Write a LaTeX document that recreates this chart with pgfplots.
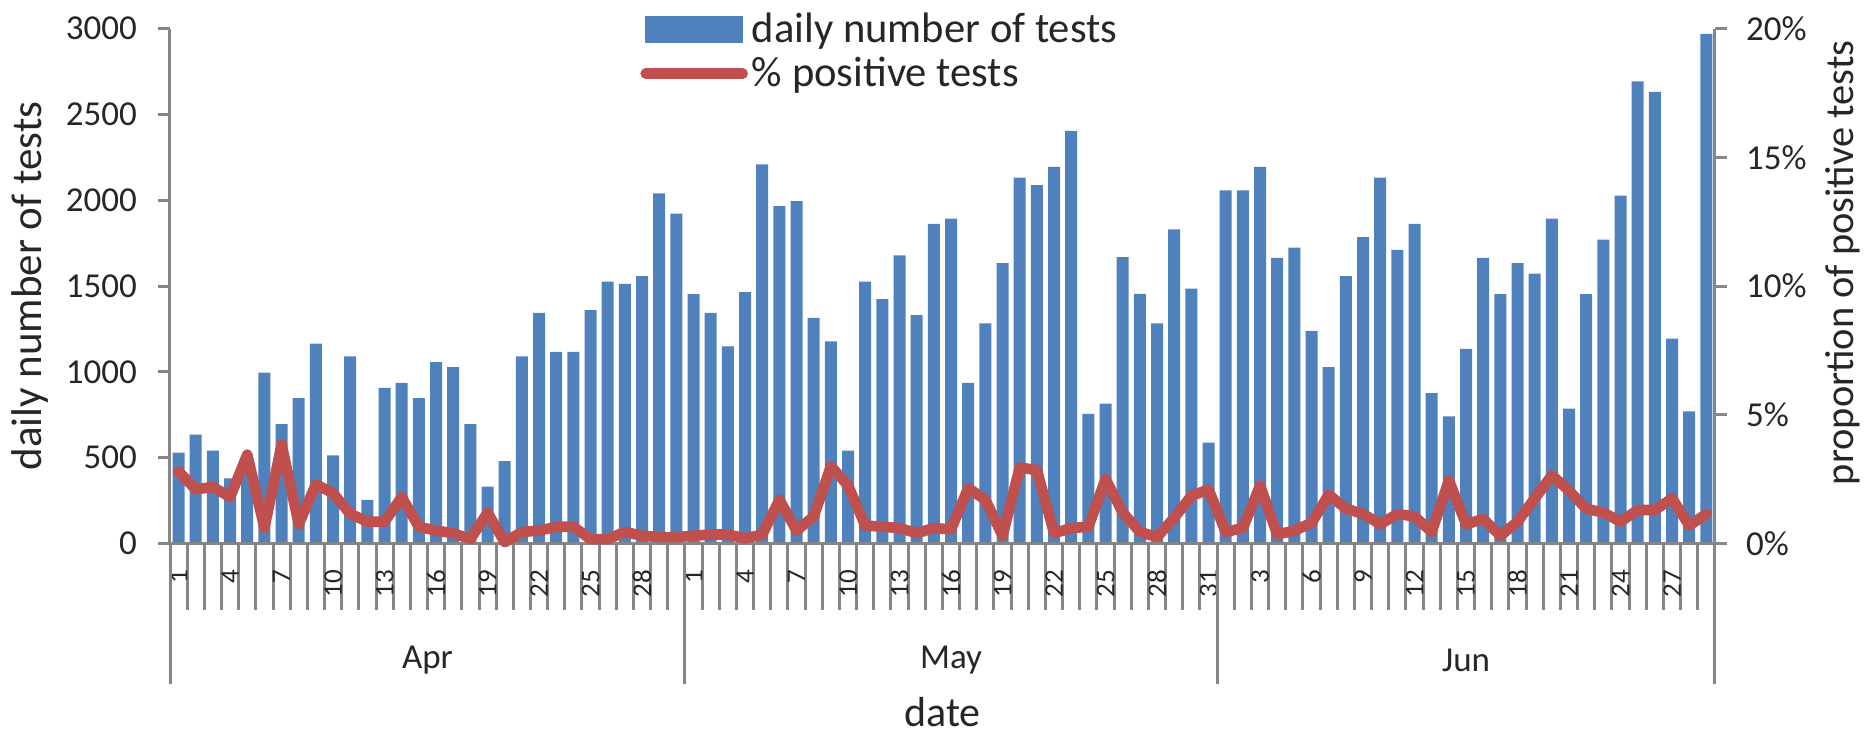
\documentclass[border=0pt]{standalone}
\usepackage{fontspec}
\setmainfont{Carlito}
\usepackage{pgfplots}
\usepackage{pgfplotstable}
\pgfplotsset{compat=1.18}
\definecolor{barblue}{HTML}{4F81BD}
\definecolor{posred}{HTML}{C0504D}
\definecolor{axgray}{HTML}{868686}

\pgfplotstableread{
idx tests pos
0 530 2.8
1 634 2.1
2 541 2.2
3 379 1.8
4 450 3.45
5 996 0.6
6 695 3.85
7 847 0.75
8 1165 2.3
9 514 1.95
10 1090 1.15
11 254 0.85
12 907 0.85
13 936 1.8
14 847 0.65
15 1057 0.5
16 1028 0.4
17 695 0.17
18 331 1.2
19 480 0.05
20 1090 0.45
21 1344 0.5
22 1117 0.65
23 1117 0.65
24 1360 0.17
25 1525 0.17
26 1512 0.45
27 1558 0.3
28 2040 0.25
29 1922 0.25
30 1452 0.3
31 1344 0.35
32 1148 0.35
33 1464 0.2
34 2209 0.35
35 1966 1.7
36 1995 0.5
37 1315 1.05
38 1177 3.0
39 541 2.25
40 1525 0.7
41 1423 0.65
42 1679 0.6
43 1331 0.4
44 1862 0.6
45 1893 0.55
46 936 2.15
47 1283 1.7
48 1633 0.3
49 2132 2.95
50 2088 2.85
51 2194 0.4
52 2404 0.6
53 755 0.65
54 815 2.5
55 1668 1.2
56 1454 0.45
57 1283 0.25
58 1830 1.0
59 1485 1.85
60 587 2.1
61 2057 0.45
62 2057 0.6
63 2194 2.25
64 1664 0.35
65 1724 0.5
66 1238 0.8
67 1028 1.9
68 1558 1.35
69 1785 1.15
70 2132 0.75
71 1710 1.15
72 1862 1.05
73 876 0.45
74 740 2.45
75 1134 0.75
76 1664 0.95
77 1452 0.3
78 1633 0.85
79 1572 1.75
80 1893 2.65
81 786 2.05
82 1452 1.35
83 1770 1.2
84 2026 0.85
85 2692 1.3
86 2631 1.3
87 1194 1.75
88 770 0.7
89 2968 1.15
}\datatable

\pgfplotsset{
  base/.style={
    scale only axis, width=772.5pt, height=257.5pt,
    at={(85pt,96.25pt)}, anchor=south west,
    xmin=-0.5, xmax=89.5,
    /pgf/number format/assume math mode=true,
    /pgf/number format/1000 sep={},
    tick align=outside,
    tick style={axgray, line width=1.5pt},
    axis line style={axgray, line width=1.5pt},
    tick label style={font=\fontsize{17.5}{20}\selectfont, text=black!85},
  }
}

\begin{document}
\begin{tikzpicture}
\useasboundingbox (0,0) rectangle (932pt,368pt);

% bars with left axis
\begin{axis}[base,
  ymin=0, ymax=3000, ytick={0,500,...,3000},
  axis y line*=left, axis x line=none,
  major tick length=6pt,
  yticklabel style={xshift=-7pt},
  every axis y label/.style={at={(axis description cs:-0.0908,0.5)}, rotate=90, anchor=center, font=\fontsize{21.5}{25}\selectfont, text=black!85},
  ylabel={daily number of tests},
]
\addplot[ybar, bar width=6pt, fill=barblue, draw=none] table[x=idx,y=tests]{\datatable};
\end{axis}

% date axis decorations
\begin{axis}[base, clip=false,
  ymin=0, ymax=1, hide y axis,
  axis x line*=bottom,
  xtick={0,3,...,87},
  xticklabels={1,4,7,10,13,16,19,22,25,28,1,4,7,10,13,16,19,22,25,28,31,3,6,9,12,15,18,21,24,27},
  major tick length=0pt,
  minor xtick={0.5,1.5,...,88.5},
  minor tick length=33pt,
  extra x ticks={-0.5,29.5,60.5,89.5},
  extra x tick labels={},
  extra x tick style={major tick length=70pt},
  xticklabel style={rotate=90, anchor=east, inner sep=1pt, font=\fontsize{13.5}{15}\selectfont},
  xticklabel shift=12pt,
  every axis x label/.style={at={(axis description cs:0.5,-0.3544)}, anchor=base, inner sep=0pt, font=\fontsize{21}{25}\selectfont, text=black!85},
  xlabel={date},
]
\node[font=\fontsize{17.5}{20}\selectfont, text=black!85] at (axis cs:14.5,0) [yshift=-58.25pt] {Apr};
\node[font=\fontsize{17.5}{20}\selectfont, text=black!85] at (axis cs:45,0) [yshift=-58.25pt] {May};
\node[font=\fontsize{17.5}{20}\selectfont, text=black!85] at (axis cs:75,0) [yshift=-58.25pt] {Jun};
\end{axis}

% percentage line with right axis
\begin{axis}[base, clip=false,
  ymin=0, ymax=20, ytick={0,5,...,20},
  yticklabel={\pgfmathprintnumber{\tick}\%},
  axis y line*=right, axis x line=none,
  major tick length=6pt,
  yticklabel style={xshift=6pt},
  every axis y label/.style={at={(axis description cs:1.0829,0.545)}, rotate=90, anchor=center, font=\fontsize{20.2}{24}\selectfont, text=black!85},
  ylabel={proportion of positive tests},
  legend style={at={(axis description cs:0.3042,1.039)}, anchor=north west,
    draw=none, fill=none, inner sep=0pt, row sep=2pt,
    font=\fontsize{21.3}{25}\selectfont, text=black!85},
  legend cell align=left,
]
\addlegendimage{legend image code/.code={\fill[barblue] (0pt,-6.5pt) rectangle (48.5pt,6.5pt);}}
\addlegendentry{daily number of tests}
\addplot[posred, line width=5.3pt, line join=round, line cap=round,
  legend image code/.code={\draw[posred, line width=5.3pt, line cap=round] (0pt,0pt) -- (48.5pt,0pt);}]
  table[x=idx,y=pos]{\datatable};
\addlegendentry{\% positive tests}
\end{axis}
\end{tikzpicture}
\end{document}
